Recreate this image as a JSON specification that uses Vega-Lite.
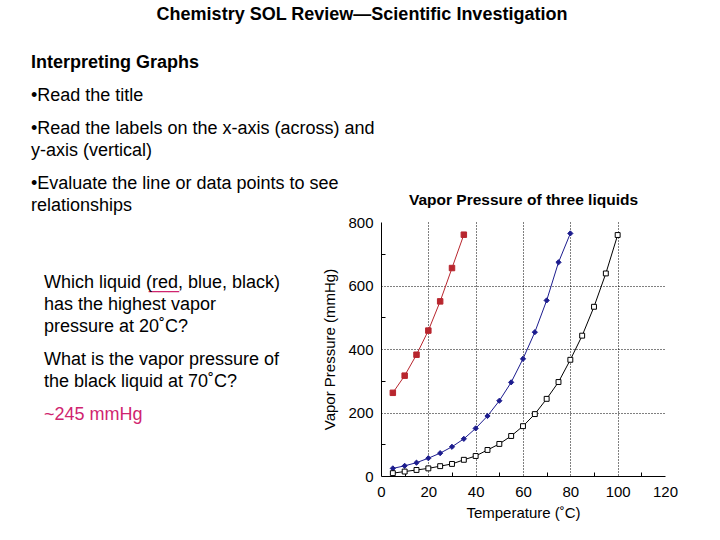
{
  "$schema": "https://vega.github.io/schema/vega-lite/v6.json",
  "width": 284,
  "height": 254,
  "autosize": {"type": "none"},
  "padding": {"left": 381, "top": 222, "right": 55, "bottom": 64},
  "background": "white",
  "config": {
    "font": "Liberation Sans",
    "view": {"stroke": null},
    "axis": {
      "labelFont": "Liberation Sans",
      "titleFont": "Liberation Sans",
      "labelFontSize": 15,
      "titleFontSize": 15,
      "titleFontWeight": "normal",
      "labelColor": "black",
      "titleColor": "black",
      "domainColor": "black",
      "tickColor": "black",
      "gridColor": "black"
    }
  },
  "title": {
    "text": "Chemistry SOL Review—Scientific Investigation",
    "anchor": "middle",
    "frame": "group",
    "dx": -161,
    "offset": 30,
    "font": "Liberation Sans",
    "fontSize": 18,
    "fontWeight": "bold",
    "color": "black"
  },
  "layer": [
    {
      "data": {
        "values": [
          {"liquid": "red", "temp": 5, "pressure": 262},
          {"liquid": "red", "temp": 10, "pressure": 316},
          {"liquid": "red", "temp": 15, "pressure": 382},
          {"liquid": "red", "temp": 20, "pressure": 458},
          {"liquid": "red", "temp": 25, "pressure": 550},
          {"liquid": "red", "temp": 30, "pressure": 655},
          {"liquid": "red", "temp": 35, "pressure": 760},
          {"liquid": "blue", "temp": 5, "pressure": 24},
          {"liquid": "blue", "temp": 10, "pressure": 32},
          {"liquid": "blue", "temp": 15, "pressure": 42},
          {"liquid": "blue", "temp": 20, "pressure": 56},
          {"liquid": "blue", "temp": 25, "pressure": 72},
          {"liquid": "blue", "temp": 30, "pressure": 92},
          {"liquid": "blue", "temp": 35, "pressure": 117},
          {"liquid": "blue", "temp": 40, "pressure": 150},
          {"liquid": "blue", "temp": 45, "pressure": 189},
          {"liquid": "blue", "temp": 50, "pressure": 237},
          {"liquid": "blue", "temp": 55, "pressure": 295},
          {"liquid": "blue", "temp": 60, "pressure": 369},
          {"liquid": "blue", "temp": 65, "pressure": 453},
          {"liquid": "blue", "temp": 70, "pressure": 553},
          {"liquid": "blue", "temp": 75, "pressure": 673},
          {"liquid": "blue", "temp": 80, "pressure": 764},
          {"liquid": "black", "temp": 5, "pressure": 9},
          {"liquid": "black", "temp": 10, "pressure": 14},
          {"liquid": "black", "temp": 15, "pressure": 19},
          {"liquid": "black", "temp": 20, "pressure": 24},
          {"liquid": "black", "temp": 25, "pressure": 31},
          {"liquid": "black", "temp": 30, "pressure": 38},
          {"liquid": "black", "temp": 35, "pressure": 51},
          {"liquid": "black", "temp": 40, "pressure": 63},
          {"liquid": "black", "temp": 45, "pressure": 82},
          {"liquid": "black", "temp": 50, "pressure": 101},
          {"liquid": "black", "temp": 55, "pressure": 126},
          {"liquid": "black", "temp": 60, "pressure": 157},
          {"liquid": "black", "temp": 65, "pressure": 195},
          {"liquid": "black", "temp": 70, "pressure": 243},
          {"liquid": "black", "temp": 75, "pressure": 296},
          {"liquid": "black", "temp": 80, "pressure": 366},
          {"liquid": "black", "temp": 85, "pressure": 442},
          {"liquid": "black", "temp": 90, "pressure": 533},
          {"liquid": "black", "temp": 95, "pressure": 638},
          {"liquid": "black", "temp": 100, "pressure": 759}
        ]
      },
      "encoding": {
        "x": {
          "field": "temp",
          "type": "quantitative",
          "scale": {"domain": [0, 120], "nice": false, "zero": false},
          "axis": {
            "title": "Temperature (˚C)",
            "values": [0, 10, 20, 30, 40, 50, 60, 70, 80, 90, 100, 110, 120],
            "labelExpr": "datum.value % 20 == 0 ? datum.label : ''",
            "labelFlush": false,
            "labelOverlap": false,
            "labelPadding": 12,
            "tickSize": -4,
            "tickOpacity": {"condition": {"test": "datum.value % 20 == 10", "value": 1}, "value": 0},
            "grid": true,
            "gridDash": [1, 2],
            "gridOpacity": {"condition": {"test": "datum.value % 20 == 0 && datum.value > 0 && datum.value < 120", "value": 1}, "value": 0},
            "titlePadding": 6
          }
        },
        "y": {
          "field": "pressure",
          "type": "quantitative",
          "scale": {"domain": [0, 800], "nice": false, "zero": false},
          "axis": {
            "title": "Vapor Pressure (mmHg)",
            "values": [0, 100, 200, 300, 400, 500, 600, 700, 800],
            "labelExpr": "datum.value % 200 == 0 ? datum.label : ''",
            "labelOverlap": false,
            "labelFlush": false,
            "labelPadding": 12,
            "tickSize": -4,
            "tickOpacity": {"condition": {"test": "datum.value % 200 == 100", "value": 1}, "value": 0},
            "grid": true,
            "gridDash": [1, 2],
            "gridOpacity": {"condition": {"test": "datum.value % 200 == 0 && datum.value > 0 && datum.value < 800", "value": 1}, "value": 0},
            "titlePadding": 10
          }
        }
      },
      "layer": [
        {
          "mark": {"type": "line", "strokeWidth": 1},
          "encoding": {
            "stroke": {
              "field": "liquid",
              "type": "nominal",
              "scale": {"domain": ["red", "blue", "black"], "range": ["#b8262e", "#1c1c8e", "#000000"]},
              "legend": null
            }
          }
        },
        {
          "mark": {"type": "point", "strokeWidth": 1, "opacity": 1},
          "encoding": {
            "shape": {
              "field": "liquid",
              "type": "nominal",
              "scale": {"domain": ["red", "blue", "black"], "range": ["square", "diamond", "square"]},
              "legend": null
            },
            "size": {
              "field": "liquid",
              "type": "nominal",
              "scale": {"domain": ["red", "blue", "black"], "range": [30, 24, 22]},
              "legend": null
            },
            "fill": {
              "field": "liquid",
              "type": "nominal",
              "scale": {"domain": ["red", "blue", "black"], "range": ["#b8262e", "#1c1c8e", "#ffffff"]},
              "legend": null
            },
            "stroke": {
              "field": "liquid",
              "type": "nominal",
              "scale": {"domain": ["red", "blue", "black"], "range": ["#b8262e", "#1c1c8e", "#000000"]},
              "legend": null
            }
          }
        }
      ]
    },
    {
      "data": {
        "values": [
          {"line": 0, "level": 1, "role": "heading", "text": "Interpreting Graphs"},
          {"line": 3, "level": 1, "role": "body", "text": "•Read the title"},
          {"line": 6, "level": 1, "role": "body", "text": "•Read the labels on the x-axis (across) and"},
          {"line": 8, "level": 1, "role": "body", "text": "y-axis (vertical)"},
          {"line": 11, "level": 1, "role": "body", "text": "•Evaluate the line or data points to see"},
          {"line": 13, "level": 1, "role": "body", "text": "relationships"},
          {"line": 20, "level": 2, "role": "body", "text": "Which liquid (red, blue, black)"},
          {"line": 22, "level": 2, "role": "body", "text": "has the highest vapor"},
          {"line": 24, "level": 2, "role": "body", "text": "pressure at 20˚C?"},
          {"line": 27, "level": 2, "role": "body", "text": "What is the vapor pressure of"},
          {"line": 29, "level": 2, "role": "body", "text": "the black liquid at 70˚C?"},
          {"line": 32, "level": 2, "role": "answer", "text": "~245 mmHg"}
        ]
      },
      "encoding": {
        "x": {
          "field": "level",
          "type": "quantitative",
          "scale": {"domain": [27.923, 49.769], "nice": false, "zero": false},
          "axis": {
            "orient": "top",
            "title": "Vapor Pressure of three liquids",
            "titleFontSize": 15.5,
            "titleFontWeight": "bold",
            "titlePadding": 15,
            "labels": false,
            "ticks": false,
            "domain": false,
            "grid": false
          }
        },
        "y": {
          "field": "line",
          "type": "quantitative",
          "scale": {"domain": [14.4545, 37.5455], "nice": false, "zero": false, "reverse": true},
          "axis": null
        }
      },
      "layer": [
        {
          "transform": [{"filter": "datum.line == 20"}],
          "mark": {"type": "text", "align": "left", "baseline": "middle", "dx": 105, "fontSize": 18, "font": "Liberation Sans", "fill": "#d0246f"},
          "encoding": {"text": {"value": "___"}}
        },
        {
          "transform": [{"filter": "datum.role == 'heading'"}],
          "mark": {"type": "text", "align": "left", "baseline": "middle", "fontSize": 18, "font": "Liberation Sans", "fontWeight": "bold", "fill": "black"},
          "encoding": {"text": {"field": "text"}}
        },
        {
          "transform": [{"filter": "datum.role == 'body'"}],
          "mark": {"type": "text", "align": "left", "baseline": "middle", "fontSize": 18, "font": "Liberation Sans", "fill": "black"},
          "encoding": {"text": {"field": "text"}}
        },
        {
          "transform": [{"filter": "datum.role == 'answer'"}],
          "mark": {"type": "text", "align": "left", "baseline": "middle", "fontSize": 18, "font": "Liberation Sans", "fill": "#d0246f"},
          "encoding": {"text": {"field": "text"}}
        }
      ]
    }
  ],
  "resolve": {
    "scale": {"x": "independent", "y": "independent"},
    "axis": {"x": "independent", "y": "independent"}
  }
}
